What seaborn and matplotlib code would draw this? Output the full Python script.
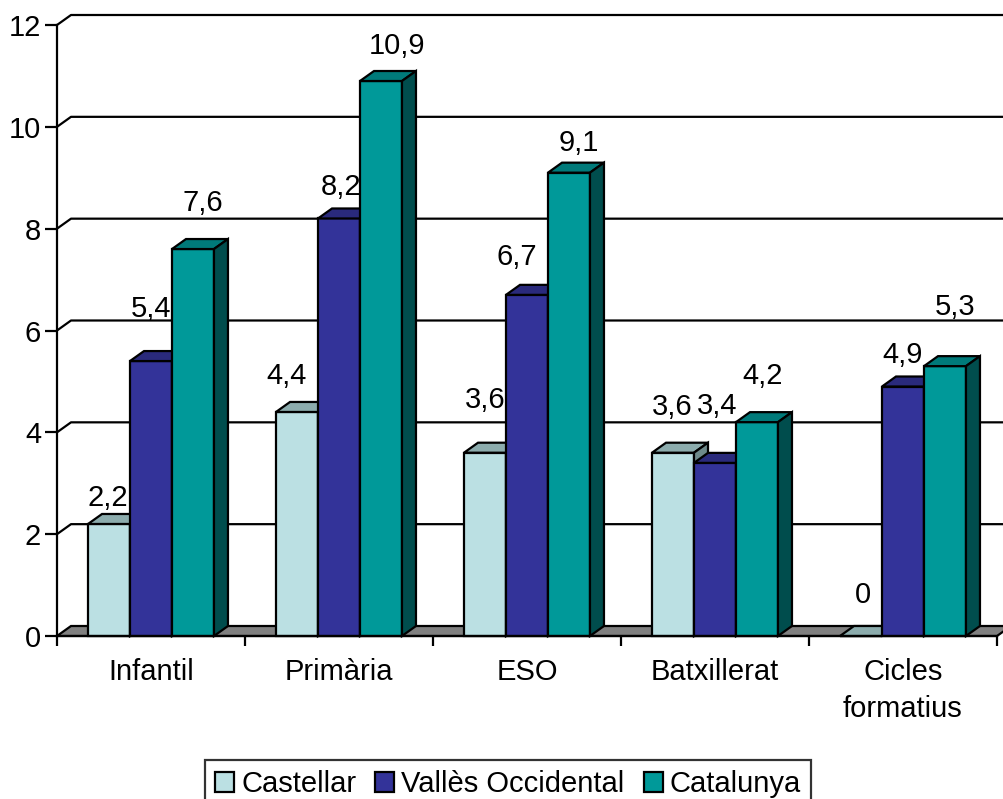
import numpy as np
import pandas as pd
import seaborn as sns
import matplotlib.pyplot as plt
from matplotlib.patches import Polygon, Patch

levels = ["Infantil", "Primària", "ESO", "Batxillerat", "Cicles\nformatius"]
series = ["Castellar", "Vallès Occidental", "Catalunya"]
castellar = [2.2, 4.4, 3.6, 3.6, 0]
valles = [5.4, 8.2, 6.7, 3.4, 4.9]
catalunya = [7.6, 10.9, 9.1, 4.2, 5.3]

# front / top / side colours for the fake 3d look
front = ["#BBE0E3", "#333399", "#009999"]
top = ["#8CACAD", "#2A2A7C", "#007A7A"]
side = ["#6E8A8B", "#1E1E5C", "#004D4D"]

# label nudges in pixels (excel places them a bit irregularly)
shift_x = [[-1, -10, 0, -1, 2], [0, 2, -10, 2, 0], [10, 16, 10, 6, 10]]
shift_y = [[26, 36, 53, 46, 41], [52, 31, 38, 57, 32], [46, 35, 30, 46, 59]]

df = pd.DataFrame({
    "nivell": levels * 3,
    "serie": np.repeat(series, len(levels)),
    "valor": castellar + valles + catalunya,
})

sns.set_theme(style="white")
plt.rcParams["font.family"] = ["Liberation Sans", "DejaVu Sans"]
plt.rcParams["text.color"] = "black"

W, H = 1004, 799
FS = 21
fig = plt.figure(figsize=(W / 100, H / 100), dpi=100)
ax = fig.add_axes([57 / W, 1 - 636 / H, 940 / W, 611 / H])

sns.barplot(data=df, x="nivell", y="valor", hue="serie", palette=front,
            saturation=1, width=0.67, edgecolor="black", linewidth=1.6,
            ax=ax, legend=False)
ax.set_xlim(-0.5, 4.5)
ax.set_ylim(0, 12)

# depth offset of the 3d effect, in data units
dx = 14 / (940 / 5)
dy = 10 / (611 / 12)
lw = 1.6
px = 72 / 100  # pixels -> points

# back wall gridlines
for v in range(2, 13, 2):
    ax.plot([-0.5, -0.5 + dx, 4.5 + dx + 0.2], [v, v + dy, v + dy],
            color="black", lw=lw, clip_on=False, zorder=1)

# floor
ax.add_patch(Polygon([(-0.5, 0), (-0.5 + dx, dy), (4.5 + dx, dy), (4.5, 0)],
                     closed=True, facecolor="#808080", edgecolor="black",
                     lw=lw, clip_on=False, zorder=2))

bw = ax.patches[0].get_width()
for p in list(ax.patches):
    if not hasattr(p, "get_x"):
        continue
    x0, w, h = p.get_x(), p.get_width(), p.get_height()
    cx = x0 + w / 2
    i = int(round(cx))
    j = int(round((cx - i) / bw)) + 1
    p.set_zorder(3 + j)
    p.set_clip_on(False)
    ax.add_patch(Polygon([(x0, h), (x0 + w, h), (x0 + w + dx, h + dy), (x0 + dx, h + dy)],
                         closed=True, facecolor=top[j], edgecolor="black", lw=lw,
                         clip_on=False, zorder=3 + j))
    ax.add_patch(Polygon([(x0 + w, 0), (x0 + w + dx, dy), (x0 + w + dx, h + dy), (x0 + w, h)],
                         closed=True, facecolor=side[j], edgecolor="black", lw=lw,
                         clip_on=False, zorder=3 + j))
    ax.annotate(f"{h:g}".replace(".", ","), xy=(cx, h),
                xytext=(shift_x[j][i] * px, shift_y[j][i] * px),
                textcoords="offset points", ha="center", va="center",
                fontsize=FS, color="black", zorder=10)

for s in ["top", "right"]:
    ax.spines[s].set_visible(False)
for s in ["left", "bottom"]:
    ax.spines[s].set_color("black")
    ax.spines[s].set_linewidth(lw)
    ax.spines[s].set_zorder(6)

ax.set_yticks(range(0, 13, 2))
ax.tick_params(axis="y", direction="out", length=8.5, width=lw, pad=3,
               labelsize=FS, colors="black", left=True)
ax.set_xticks(np.arange(-0.5, 5, 1))
ax.set_xticklabels([])
ax.set_xticks(range(5), minor=True)
ax.set_xticklabels(levels, minor=True)
ax.tick_params(axis="x", which="major", direction="out", length=7.2, width=lw,
               colors="black", bottom=True)
ax.tick_params(axis="x", which="minor", length=0, pad=16, labelsize=FS,
               colors="black")
for t in ax.get_xticklabels(minor=True):
    t.set_linespacing(1.4)
ax.set_xlabel("")
ax.set_ylabel("")

handles = [Patch(facecolor=c, edgecolor="black", lw=lw) for c in front]
leg = fig.legend(handles, series, loc="lower center", bbox_to_anchor=(508 / W, -0.012),
                 ncol=3, fontsize=FS, frameon=True, fancybox=False,
                 edgecolor="black", handlelength=0.65, handleheight=0.65,
                 handletextpad=0.25, columnspacing=0.65, borderpad=0.35,
                 borderaxespad=0.0)
leg.get_frame().set_linewidth(lw)

fig.savefig("out.png", dpi=100)
